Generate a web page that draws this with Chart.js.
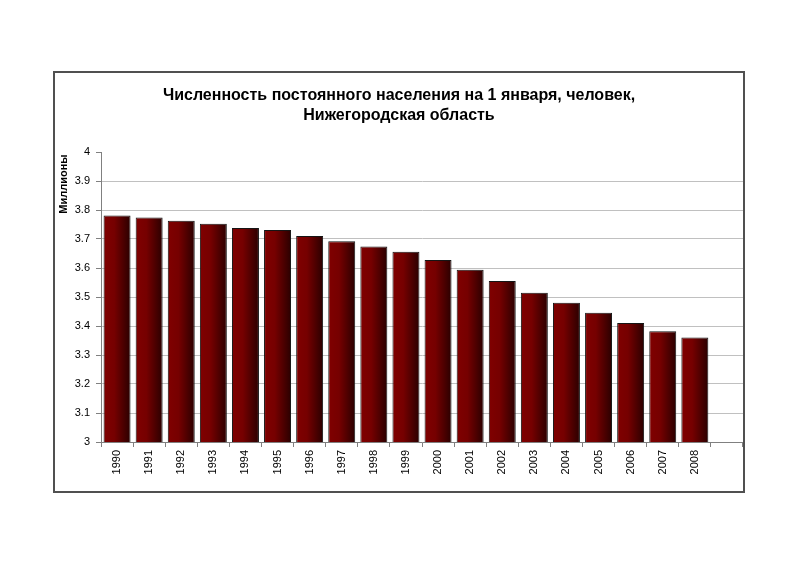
<!DOCTYPE html>
<html>
<head>
<meta charset="utf-8">
<title>Численность постоянного населения</title>
<script src="https://cdn.jsdelivr.net/npm/chart.js@4/dist/chart.umd.min.js"></script>
<style>
  body { margin: 0; background: #fff; }
  #wrap { width: 800px; height: 566px; }
</style>
</head>
<body>
<div id="wrap"><canvas id="popChart" width="800" height="566"></canvas></div>
<script>
// years on the x axis (one empty slot after 2008, as in the original)
const years = ['1990', '1991', '1992', '1993', '1994', '1995', '1996', '1997', '1998', '1999',
               '2000', '2001', '2002', '2003', '2004', '2005', '2006', '2007', '2008'];
// population on 1 January, millions
const population = [3.781, 3.774, 3.763, 3.753, 3.738, 3.731, 3.710, 3.692, 3.674, 3.656,
                    3.628, 3.594, 3.555, 3.515, 3.480, 3.446, 3.410, 3.382, 3.360];
const titleLines = ['Численность постоянного населения на 1 января, человек,', 'Нижегородская область'];
const yTitle = 'Миллионы';

const FONT = '"Liberation Sans", Arial, sans-serif';

// white page + frame around the whole chart, axis title near the top
const framePlugin = {
    id: 'frame',
    beforeDraw(chart) {
        const c = chart.ctx;
        c.save();
        c.fillStyle = '#fff';
        c.fillRect(0, 0, chart.width, chart.height);
        c.restore();
    },
    afterDraw(chart) {
        const c = chart.ctx;
        c.save();
        c.strokeStyle = '#505050';
        c.lineWidth = 2;
        c.strokeRect(54, 72, 690, 420);
        c.translate(64, chart.chartArea.top + 32);
        c.rotate(-Math.PI / 2);
        c.font = 'bold 11px ' + FONT;
        c.fillStyle = '#000';
        c.textAlign = 'center';
        c.textBaseline = 'middle';
        c.fillText(yTitle, 0, 0);
        c.restore();
    }
};

function barGradient(ctx) {
    const chart = ctx.chart;
    if (!chart.chartArea || ctx.dataIndex === undefined) return '#6a0000';
    const xs = chart.scales.x;
    const cx = xs.getPixelForValue(ctx.dataIndex);
    const half = (xs.width / xs.ticks.length) * 0.84 / 2;
    const g = chart.ctx.createLinearGradient(cx - half, 0, cx + half, 0);
    g.addColorStop(0, '#800000');
    g.addColorStop(0.4, '#760000');
    g.addColorStop(1, '#2a0000');
    return g;
}

new Chart(document.getElementById('popChart'), {
    type: 'bar',
    data: {
        labels: years.concat(['']),
        datasets: [{
            data: population.concat([null]),
            backgroundColor: barGradient,
            borderColor: '#151515',
            borderWidth: 1,
            borderSkipped: false,
            barPercentage: 0.84,
            categoryPercentage: 1
        }]
    },
    options: {
        responsive: false,
        animation: false,
        layout: { padding: { left: 55, top: 0, right: 57, bottom: 0 } },
        plugins: {
            legend: { display: false },
            tooltip: { enabled: false },
            title: {
                display: true,
                text: titleLines,
                color: '#000',
                font: { family: FONT, size: 16, weight: 'bold', lineHeight: 1.25 },
                padding: { top: 86, bottom: 26 }
            }
        },
        scales: {
            x: {
                afterFit(scale) { scale.height = 124; },
                grid: { drawOnChartArea: false, drawTicks: true, tickLength: 5, color: '#808080' },
                border: { color: '#808080', width: 1 },
                ticks: {
                    minRotation: 90, maxRotation: 90, autoSkip: false, padding: 3,
                    color: '#000', font: { family: FONT, size: 11 }
                }
            },
            y: {
                min: 3,
                max: 4,
                afterFit(scale) { scale.width = 46; },
                grid: {
                    color: ctx => (ctx.tick && ctx.tick.value >= 3.95) ? 'rgba(0,0,0,0)' : '#c0c0c0',
                    tickColor: '#808080',
                    tickLength: 5
                },
                border: { color: '#808080', width: 1 },
                ticks: {
                    stepSize: 0.1,
                    padding: 6,
                    color: '#000',
                    font: { family: FONT, size: 11 },
                    callback: v => String(Math.round(v * 10) / 10)
                }
            }
        }
    },
    plugins: [framePlugin]
});
</script>
</body>
</html>
